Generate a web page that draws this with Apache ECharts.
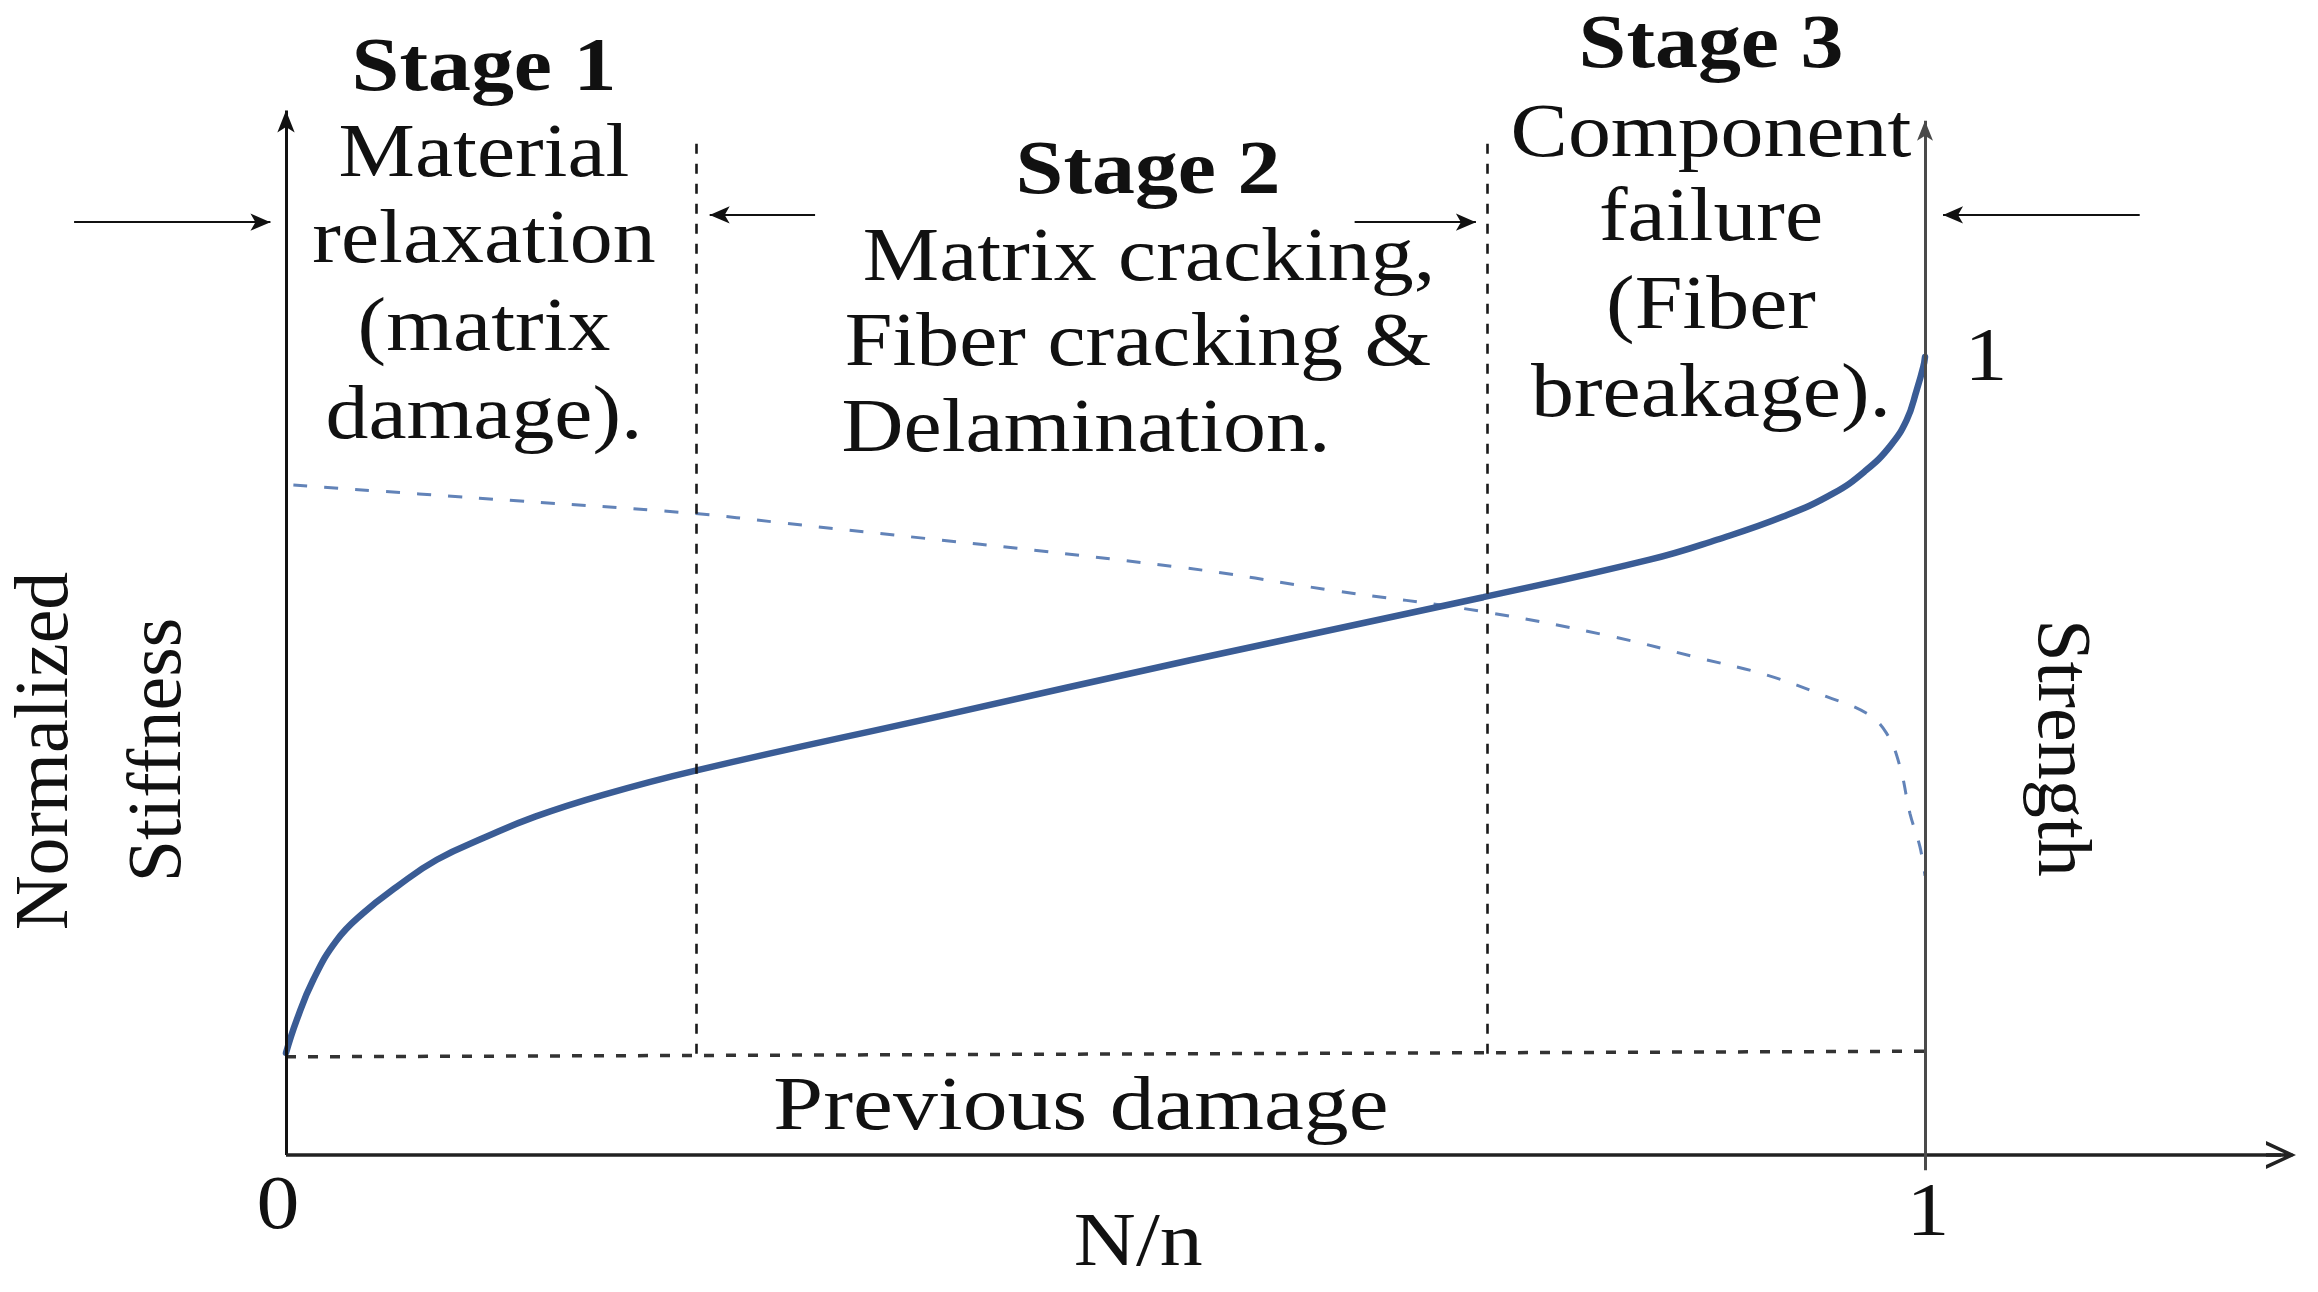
<!DOCTYPE html>
<html>
<head>
<meta charset="utf-8">
<script src="https://cdn.jsdelivr.net/npm/echarts@6.0.0/dist/echarts.min.js"></script>
<style>
html,body{margin:0;padding:0;background:#fff;}
#chart{width:2318px;height:1292px;}
</style>
</head>
<body>
<div id="chart"></div>
<script>
// ---- data ----
const damageX = [0, 0.0065, 0.0165, 0.0309, 0.047, 0.0675, 0.092, 0.1225, 0.152, 0.193, 0.2505, 0.399, 0.5516, 0.7305, 0.832, 0.873, 0.9135, 0.944, 0.964, 0.9786, 0.9888, 0.995, 0.999, 1.0];
const damageY = [0.128, 0.169, 0.219, 0.269, 0.303, 0.336, 0.370, 0.399, 0.424, 0.451, 0.482, 0.550, 0.620, 0.699, 0.746, 0.771, 0.800, 0.829, 0.858, 0.888, 0.921, 0.959, 0.988, 1.0];
const strengthX = [0.0045, 0.118, 0.2485, 0.3014, 0.5455, 0.637, 0.730, 0.8096, 0.8627, 0.9034, 0.94, 0.9644, 0.9766, 0.9847, 0.9908, 0.9969, 1.0];
const strengthY = [0.8396, 0.823, 0.804, 0.7924, 0.7365, 0.708, 0.681, 0.6495, 0.6225, 0.6015, 0.5744, 0.5535, 0.5284, 0.487, 0.4282, 0.3864, 0.350];
const previousDamageX = [0, 1];
const previousDamageY = [0.123, 0.130];
const stageBoundaries = [0.25, 0.733];
const xTickValues = [0, 1];
const xTickLabels = ['0', '1'];
const stageTitles = ['Stage 1', 'Stage 2', 'Stage 3'];
const stageLines = [
  ['Material', 'relaxation', '(matrix', 'damage).'],
  ['Matrix cracking,', 'Fiber cracking &', 'Delamination.'],
  ['Component', 'failure', '(Fiber', 'breakage).']
];
const yTitle = ['Normalized', 'Stiffness'];
const rightTitle = 'Strength';
const xTitle = 'N/n';
const baseLabel = 'Previous damage';
const endLabel = '1';

// ---- chart ----
const chart = echarts.init(document.getElementById('chart'), null, {renderer: 'canvas'});
const FONT = '"Liberation Serif", "Times New Roman", serif';
const ink = '#111';
const zip = (xs, ys) => xs.map((x, i) => [x, ys[i]]);
const chevron = 'path://M0,30 L14,0 L28,30 L24,30 L14,8 L4,30 Z M12.3,3 L15.7,3 L15.7,30 L12.3,30 Z';

function arrowLine(a, b, endSymbol, size, color, width) {
  return [
    {coord: a, symbol: 'none', lineStyle: {color: color, width: width, type: 'solid'}},
    {coord: b, symbol: endSymbol, symbolSize: size}
  ];
}

const markLines = [
  // axes
  arrowLine([0, 0], [0, 1.309], 'arrow', [13, 22], '#111', 3),
  arrowLine([0, 0], [1.2172, 0], chevron, [28, 30], '#222', 3.5),
  arrowLine([1, -0.019], [1, 1.296], 'arrow', [12, 20], '#4a4a4a', 3),
  // stage arrows
  arrowLine([-0.1293, 1.169], [-0.0095, 1.169], 'arrow', [13, 20], '#111', 2.2),
  arrowLine([0.3228, 1.178], [0.2585, 1.178], 'arrow', [13, 20], '#111', 2.2),
  arrowLine([0.652, 1.169], [0.726, 1.169], 'arrow', [13, 20], '#111', 2.2),
  arrowLine([1.131, 1.178], [1.011, 1.178], 'arrow', [13, 20], '#111', 2.2)
];
stageBoundaries.forEach((b, i) => {
  markLines.push([
    {coord: [b, 0.127], symbol: 'none', lineStyle: {color: '#1a1a1a', width: 2.6, type: [10, 10]}},
    {coord: [b, i === 0 ? 1.271 : 1.277], symbol: 'none'}
  ]);
});

const option = {
  animation: false,
  backgroundColor: '#fff',
  grid: {left: 0, right: 0, top: 0, bottom: 0},
  xAxis: {type: 'value', min: -0.1745, max: 1.23978, show: false},
  yAxis: {type: 'value', min: -0.17168, max: 1.44737, show: false},
  series: [
    {
      name: 'Previous damage', type: 'line', data: zip(previousDamageX, previousDamageY),
      symbol: 'none', clip: false,
      lineStyle: {color: '#333', width: 3.5, type: [10, 12]},
      markLine: {silent: true, symbol: ['none', 'none'], label: {show: false}, data: markLines}
    },
    {
      name: 'Strength', type: 'line', data: zip(strengthX, strengthY),
      symbol: 'none', smooth: 0.4, clip: false,
      lineStyle: {color: '#6283b8', width: 3, type: [14, 17]}
    },
    {
      name: 'Damage', type: 'line', data: zip(damageX, damageY),
      symbol: 'none', smooth: 0.45, clip: false,
      lineStyle: {color: '#3a5c95', width: 6.5, cap: 'round'}
    }
  ]
};
chart.setOption(option);

// ---- texts, positioned through the chart's own scales where tied to data ----
const px = (x, y) => chart.convertToPixel({gridIndex: 0}, [x, y]);
function txt(text, x, y, opts) {
  opts = opts || {};
  return {
    type: 'text', x: x, y: y, rotation: opts.rotation || 0,
    scaleX: opts.scaleX === undefined ? 1.13 : opts.scaleX,
    silent: true,
    style: {
      text: text, x: 0, y: 0,
      font: (opts.bold ? 'bold ' : '') + (opts.size || 76) + 'px ' + FONT,
      fill: ink, align: 'center', verticalAlign: 'middle'
    }
  };
}
const g = [];
xTickValues.forEach((v, i) => {
  const p = px(v, 0);
  g.push(txt(xTickLabels[i], p[0] - (i === 0 ? 8 : -3), p[1] + (i === 0 ? 53 : 60)));
});
g.push(txt(xTitle, px(0.52, 0)[0], px(0, 0)[1] + 90));
const pb = px(0.485, 0.123);
g.push(txt(baseLabel, pb[0], pb[1] + 52, {scaleX: 1.18}));
const pe = px(1, 1);
g.push(txt(endLabel, pe[0] + 61, pe[1] + 3));
g.push(txt(yTitle[0], 47, 751, {rotation: Math.PI / 2, scaleX: 1}));
g.push(txt(yTitle[1], 160, 750, {rotation: Math.PI / 2, scaleX: 1}));
g.push(txt(rightTitle, 2059, 748, {rotation: -Math.PI / 2, scaleX: 1}));

// stage annotations
const stageTitlePos = [[484, 70], [1148, 173], [1711, 47]];
const stageLinePos = [
  [[484, 156], [484, 242], [484, 330], [484, 418]],
  [[1149, 260], [1138, 345], [1086, 431]],
  [[1711, 136], [1711, 220], [1711, 308], [1711, 396]]
];
stageTitles.forEach((t, i) => {
  g.push(txt(t, stageTitlePos[i][0], stageTitlePos[i][1], {bold: true}));
  stageLines[i].forEach((l, j) => g.push(txt(l, stageLinePos[i][j][0], stageLinePos[i][j][1])));
});
chart.setOption({graphic: {elements: g}});
</script>
</body>
</html>
